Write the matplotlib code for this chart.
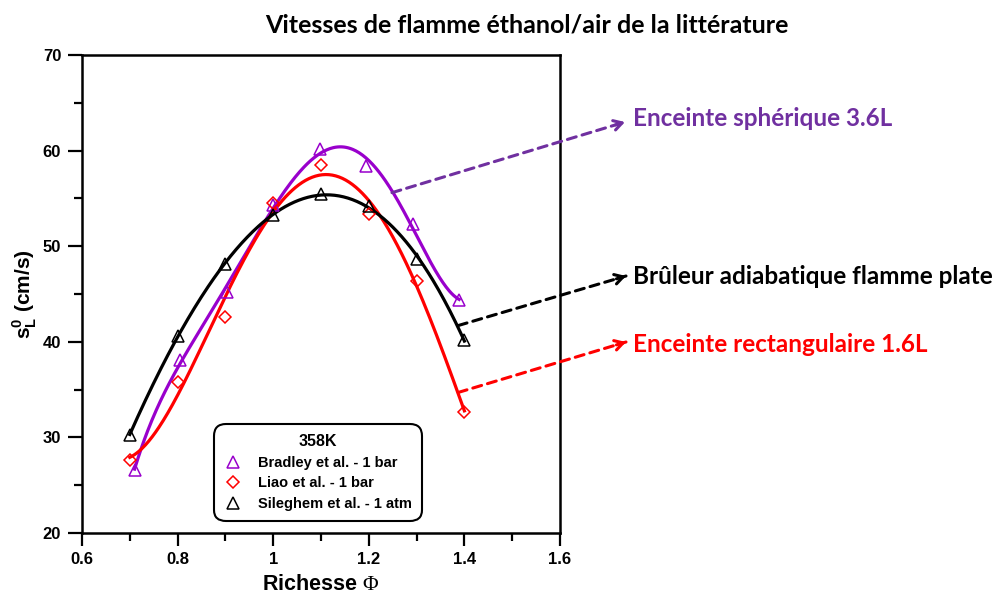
import numpy as np
import matplotlib
matplotlib.use("Agg")
import matplotlib.pyplot as plt
from matplotlib.lines import Line2D
from matplotlib.ticker import MultipleLocator

plt.rcParams['font.family'] = ['Liberation Sans', 'DejaVu Sans']
plt.rcParams['mathtext.fontset'] = 'custom'
plt.rcParams['mathtext.rm'] = 'Liberation Serif'
plt.rcParams['mathtext.bf'] = 'Liberation Sans:bold'

# ---- data ----
bradley_phi = [0.71, 0.805, 0.903, 1.0, 1.098, 1.195, 1.292, 1.389]
bradley_sl = [26.6, 38.1, 45.2, 54.3, 60.2, 58.4, 52.3, 44.35]
liao_phi = [0.7, 0.8, 0.9, 1.0, 1.1, 1.2, 1.3, 1.4]
liao_sl = [27.6, 35.8, 42.6, 54.5, 58.5, 53.4, 46.4, 32.7]
sileghem_phi = [0.7, 0.8, 0.9, 1.0, 1.1, 1.2, 1.3, 1.4]
sileghem_sl = [30.3, 40.6, 48.1, 53.3, 55.5, 54.2, 48.7, 40.2]

legend_labels = ["Bradley et al. - 1 bar", "Liao et al. - 1 bar", "Sileghem et al. - 1 atm"]
legend_title = "358K"
annot_labels = ["Enceinte sphérique 3.6L", "Brûleur adiabatique flamme plate", "Enceinte rectangulaire 1.6L"]
title = "Vitesses de flamme éthanol/air de la littérature"

c_brad = '#9900CC'
c_liao = '#FF0000'
c_sil = '#000000'
c_sph = '#7030A0'

fig = plt.figure(figsize=(10.07, 5.96), dpi=100)
ax = fig.add_axes([82/1007, 63/596, 478/1007, 478/596])

def fit_curve(x, y, deg):
    p = np.polyfit(x, y, deg)
    xs = np.linspace(min(x), max(x), 300)
    return xs, np.polyval(p, xs)

for x, y, c, deg in [(bradley_phi, bradley_sl, c_brad, 5),
                     (liao_phi, liao_sl, c_liao, 4),
                     (sileghem_phi, sileghem_sl, c_sil, 3)]:
    xs, ys = fit_curve(x, y, deg)
    ax.plot(xs, ys, color=c, lw=2.3, zorder=3)

ax.plot(bradley_phi, bradley_sl, ls='none', marker='^', ms=9, mfc='none', mec=c_brad, mew=1.1, zorder=4)
ax.plot(liao_phi, liao_sl, ls='none', marker='D', ms=6.5, mfc='none', mec=c_liao, mew=1.1, zorder=4)
ax.plot(sileghem_phi, sileghem_sl, ls='none', marker='^', ms=9, mfc='none', mec=c_sil, mew=1.1, zorder=4)

ax.set_xlim(0.6, 1.6)
ax.set_ylim(20, 70)
ax.xaxis.set_minor_locator(MultipleLocator(0.1))
ax.yaxis.set_major_locator(MultipleLocator(10))
ax.yaxis.set_minor_locator(MultipleLocator(5))
ax.set_xticks([0.6, 0.8, 1.0, 1.2, 1.4, 1.6])
ax.set_xticklabels(['0.6', '0.8', '1', '1.2', '1.4', '1.6'])
ax.tick_params(which='major', direction='out', length=9, width=1.6, labelsize=12, pad=5)
ax.tick_params(which='minor', direction='out', length=6, width=1.6)
ax.tick_params(axis='y', which='major', length=10, pad=5)
for lab in ax.get_xticklabels() + ax.get_yticklabels():
    lab.set_fontweight('bold')
for s in ax.spines.values():
    s.set_linewidth(1.8)

ax.set_xlabel(r'Richesse $\mathrm{\Phi}$', fontsize=15.5, fontweight='bold', labelpad=5)
ax.set_ylabel(r'$\mathbf{s}_\mathbf{L}^{\mathbf{0}}$ (cm/s)', fontsize=15, fontweight='bold', labelpad=3)

handles = [
    Line2D([], [], ls='none', marker='^', ms=9, mfc='none', mec=c_brad, mew=1.1),
    Line2D([], [], ls='none', marker='D', ms=6.5, mfc='none', mec=c_liao, mew=1.1),
    Line2D([], [], ls='none', marker='^', ms=9, mfc='none', mec=c_sil, mew=1.1),
]
leg = ax.legend(handles, legend_labels, title=legend_title, loc='upper left',
                bbox_to_anchor=((217-82)/478, (533-427)/478),
                prop={'weight': 'bold', 'size': 10.5}, title_fontproperties={'weight': 'bold', 'size': 11.5},
                frameon=True, fancybox=True, edgecolor='black', framealpha=1,
                handlelength=1.2, handletextpad=1.1, borderpad=0.5, labelspacing=0.45, borderaxespad=0)
leg.get_frame().set_linewidth(1.5)
leg.get_frame().set_boxstyle('round,pad=0.2,rounding_size=0.8')

# title
fig.text(527/1007, 1-25/596, title, ha='center', va='center', fontsize=18,
         fontweight='bold', family='Lato')

# annotation arrows (start on curve, end near label)
def px(xp, yp):
    return (xp/1007, 1-yp/596)

arrows = [((1.2485, 55.6), px(625, 122), c_sph, annot_labels[0], px(633, 118)),
          ((1.387, 41.7), px(626, 276), c_sil, annot_labels[1], px(633, 277)),
          ((1.387, 34.7), px(626, 342), c_liao, annot_labels[2], px(633, 345))]
for start, end, col, lab, tpos in arrows:
    ax.annotate('', xy=end, xycoords='figure fraction', xytext=start, textcoords='data',
                arrowprops=dict(arrowstyle='-', ls=(0, (3, 2)), lw=2.2, color=col,
                                shrinkA=0, shrinkB=0), annotation_clip=False)
    # solid open arrow head
    sx, sy = ax.transData.transform(start)
    ex, ey = end[0]*1007, end[1]*596
    d = np.hypot(ex-sx, ey-sy)
    hx, hy = ex - (ex-sx)/d*10, ey - (ey-sy)/d*10
    ax.annotate('', xy=end, xycoords='figure fraction', xytext=(hx/1007, hy/596),
                textcoords='figure fraction',
                arrowprops=dict(arrowstyle='->,head_length=0.6,head_width=0.35', lw=2.2, color=col,
                                shrinkA=0, shrinkB=0), annotation_clip=False)
    fig.text(tpos[0], tpos[1], lab, ha='left', va='center', fontsize=17.5,
             fontweight='bold', color=col, family='Lato')

fig.savefig('out.png', dpi=100)
